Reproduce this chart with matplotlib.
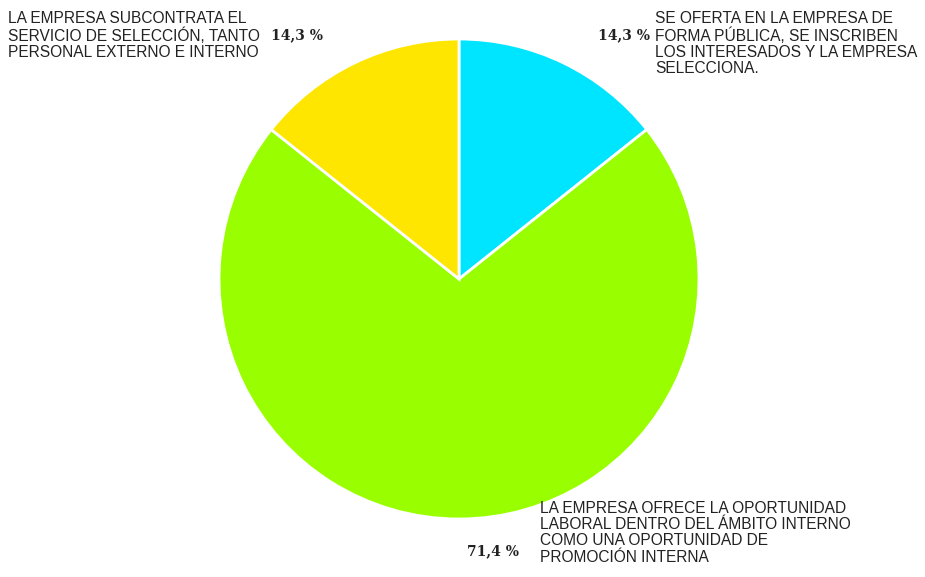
import numpy as np
import matplotlib.pyplot as plt

# slices, clockwise from 12 o'clock
valores = [14.3, 71.4, 14.3]
porcentajes = ['14,3 %', '71,4 %', '14,3 %']
etiquetas = [
    'SE OFERTA EN LA EMPRESA DE\nFORMA PÚBLICA, SE INSCRIBEN\nLOS INTERESADOS Y LA EMPRESA\nSELECCIONA.',
    'LA EMPRESA OFRECE LA OPORTUNIDAD\nLABORAL DENTRO DEL ÁMBITO INTERNO\nCOMO UNA OPORTUNIDAD DE\nPROMOCIÓN INTERNA',
    'LA EMPRESA SUBCONTRATA EL\nSERVICIO DE SELECCIÓN, TANTO\nPERSONAL EXTERNO E INTERNO',
]
colores = ['#00E5FF', '#99FF00', '#FFE600']

W, H = 925, 577
fig = plt.figure(figsize=(W / 100, H / 100), dpi=100)
ax = fig.add_axes([0, 0, 1, 1])
ax.set_xlim(0, W)
ax.set_ylim(0, H)
ax.set_aspect('equal')
ax.axis('off')

ax.pie(valores, colors=colores, startangle=90, counterclock=False,
       center=(459, H - 279), radius=240,
       wedgeprops=dict(edgecolor='white', linewidth=2))
ax.set_xlim(0, W)
ax.set_ylim(0, H)

lab_font = dict(family='Liberation Sans', fontsize=11.2, color='#222222',
                linespacing=1.1, va='top', ha='left')
pct_font = dict(family='DejaVu Serif', fontsize=10, color='#222222',
                fontweight='semibold', va='center', ha='left')

# label positions (x, top y) and percent positions (x, center y)
pos_lab = [(655, 11), (540, 501), (8, 11)]
pos_pct = [(598, 35), (467, 551), (271, 35)]

for txt, (x, y) in zip(etiquetas, pos_lab):
    ax.text(x, H - y, txt, **lab_font)
for p, (x, y) in zip(porcentajes, pos_pct):
    ax.text(x, H - y, p, **pct_font)

fig.savefig('out.png', dpi=100)
